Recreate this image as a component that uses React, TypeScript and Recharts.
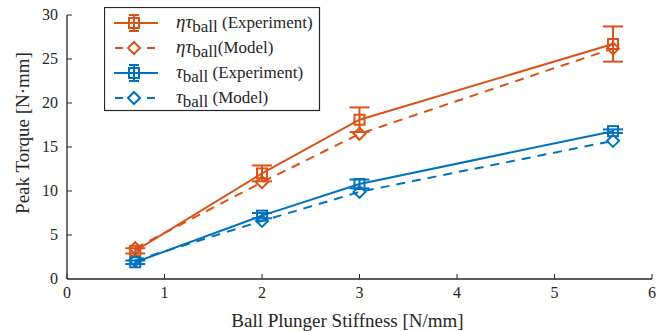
import React from 'react';
import { LineChart, Line, XAxis, YAxis, ErrorBar } from 'recharts';

// stiffness of the ball plunger [N/mm]
const stiffness = [0.7, 2, 3, 5.6];
// peak torque [N·mm]
const etaExp = [3.2, 12.0, 18.1, 26.7];
const etaExpErr = [0.3, 0.9, 1.4, 2.0];
const etaModel = [3.5, 11.0, 16.5, 26.2];
const tauExp = [1.9, 7.2, 10.8, 16.8];
const tauExpErr = [0.2, 0.3, 0.5, 0.2];
const tauModel = [2.1, 6.6, 9.9, 15.7];

const xTicks = [0, 1, 2, 3, 4, 5, 6];
const yTicks = [0, 5, 10, 15, 20, 25, 30];

const ORANGE = '#D95319';
const BLUE = '#0072BD';
const INK = '#262626';
const FONT = '"Liberation Serif", serif';

const data = stiffness.map((x, i) => ({
  x,
  etaExp: etaExp[i],
  etaExpErr: etaExpErr[i],
  etaModel: etaModel[i],
  tauExp: tauExp[i],
  tauExpErr: tauExpErr[i],
  tauModel: tauModel[i],
}));

const legendItems = [
  { color: ORANGE, eta: true, model: false, note: ' (Experiment)' },
  { color: ORANGE, eta: true, model: true, note: '(Model)' },
  { color: BLUE, eta: false, model: false, note: ' (Experiment)' },
  { color: BLUE, eta: false, model: true, note: ' (Model)' },
];

const squareDot = (color: string) => (props: any) => {
  const { cx, cy, index } = props;
  return <rect key={'s' + index} x={cx - 5} y={cy - 5} width={10} height={10} fill="none" stroke={color} strokeWidth={2} />;
};

const diamondDot = (color: string) => (props: any) => {
  const { cx, cy, index } = props;
  return (
    <path key={'d' + index} d={`M${cx},${cy - 6}L${cx + 6},${cy}L${cx},${cy + 6}L${cx - 6},${cy}Z`} fill="none" stroke={color} strokeWidth={2} />
  );
};

const XTick = (props: any) => {
  const { x, y, payload } = props;
  return (
    <g>
      <line x1={x} x2={x} y1={y} y2={y - 5} stroke={INK} />
      <text x={x} y={y + 19} textAnchor="middle" fontFamily={FONT} fontSize={16} fill={INK}>{payload.value}</text>
    </g>
  );
};

const YTick = (props: any) => {
  const { x, y, payload } = props;
  return (
    <g>
      {payload.value !== 0 && <line x1={x} x2={x + 5} y1={y} y2={y} stroke={INK} />}
      <text x={x - 9} y={y + 5} textAnchor="end" fontFamily={FONT} fontSize={16} fill={INK}>{payload.value}</text>
    </g>
  );
};

const LegendBox = () => (
  <svg width={217} height={105} style={{ position: 'absolute', left: 104, top: 7 }}>
    <rect x={0.5} y={0.5} width={215} height={103} fill="#fff" stroke={INK} strokeWidth={1.2} />
    {legendItems.map((it, i) => {
      const cy = 16 + i * 25;
      return (
        <g key={i}>
          {it.model ? (
            <>
              <line x1={10} x2={54} y1={cy} y2={cy} stroke={it.color} strokeWidth={2} strokeDasharray="8 8" strokeDashoffset={-1} />
              <path d={`M30,${cy - 6}L36,${cy}L30,${cy + 6}L24,${cy}Z`} fill="#fff" stroke={it.color} strokeWidth={2} />
            </>
          ) : (
            <>
              <line x1={10} x2={54} y1={cy} y2={cy} stroke={it.color} strokeWidth={2} />
              <line x1={30} x2={30} y1={cy - 8} y2={cy + 8} stroke={it.color} strokeWidth={2} />
              <line x1={25} x2={35} y1={cy - 8} y2={cy - 8} stroke={it.color} strokeWidth={2} />
              <line x1={25} x2={35} y1={cy + 8} y2={cy + 8} stroke={it.color} strokeWidth={2} />
              <rect x={25} y={cy - 5} width={10} height={10} fill="none" stroke={it.color} strokeWidth={2} />
            </>
          )}
          <text x={72} y={cy + 5} fontFamily={FONT} fontSize={19} fill={INK}>
            <tspan fontStyle="italic">{it.eta ? 'ητ' : 'τ'}</tspan>
            <tspan fontSize={17} dy={4}>ball</tspan>
            <tspan dy={-4} fontSize={17}>{it.note}</tspan>
          </text>
        </g>
      );
    })}
  </svg>
);

export default function App() {
  return (
    <div style={{ position: 'absolute', left: 0, top: 0, width: 669, height: 331, background: '#fff' }}>
      <LineChart width={669} height={331} data={data} margin={{ top: 15, right: 17, left: 0, bottom: 0 }}>
        <XAxis
          dataKey="x"
          type="number"
          domain={[0, 6]}
          ticks={xTicks}
          tickSize={0}
          tickMargin={0}
          tick={<XTick />}
          height={52}
          stroke={INK}
          strokeWidth={1.3}
          label={{ value: 'Ball Plunger Stiffness [N/mm]', position: 'insideBottom', offset: 4, dx: -12, fontFamily: FONT, fontSize: 19, fill: INK }}
        />
        <YAxis
          type="number"
          domain={[0, 30]}
          ticks={yTicks}
          tickSize={0}
          tickMargin={0}
          tick={<YTick />}
          width={67}
          stroke={INK}
          strokeWidth={1.3}
          label={{ value: 'Peak Torque [N·mm]', angle: -90, position: 'insideLeft', offset: 22, dy: -14, style: { textAnchor: 'middle' }, fontFamily: FONT, fontSize: 19, fill: INK }}
        />
        <Line type="linear" dataKey="etaModel" stroke={ORANGE} strokeWidth={2} strokeDasharray="9 7" dot={diamondDot(ORANGE)} isAnimationActive={false} />
        <Line type="linear" dataKey="tauModel" stroke={BLUE} strokeWidth={2} strokeDasharray="9 7" dot={diamondDot(BLUE)} isAnimationActive={false} />
        <Line type="linear" dataKey="etaExp" stroke={ORANGE} strokeWidth={2} dot={squareDot(ORANGE)} isAnimationActive={false}>
          <ErrorBar dataKey="etaExpErr" direction="y" width={10} strokeWidth={2} stroke={ORANGE} />
        </Line>
        <Line type="linear" dataKey="tauExp" stroke={BLUE} strokeWidth={2} dot={squareDot(BLUE)} isAnimationActive={false}>
          <ErrorBar dataKey="tauExpErr" direction="y" width={10} strokeWidth={2} stroke={BLUE} />
        </Line>
      </LineChart>
      <LegendBox />
    </div>
  );
}
